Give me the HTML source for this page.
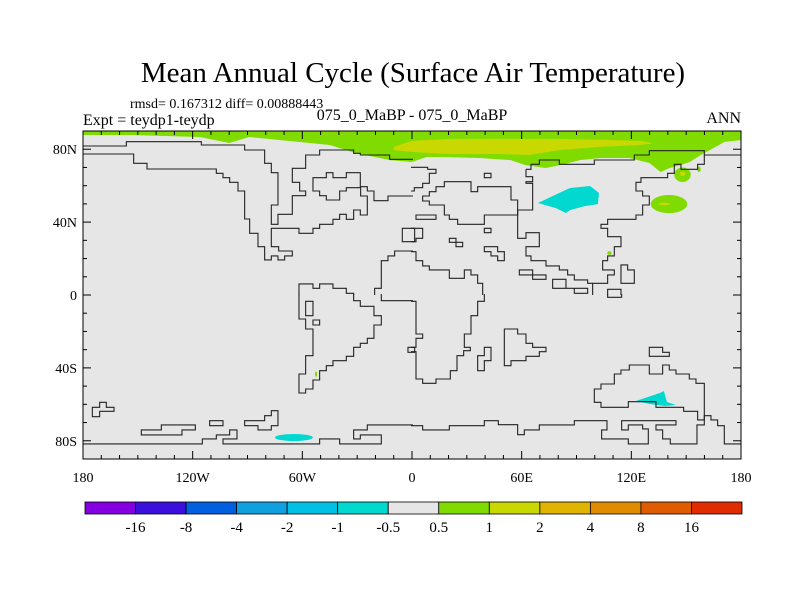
<!DOCTYPE html>
<html><head><meta charset="utf-8"><style>
html,body{margin:0;padding:0;background:#fff;}
svg{display:block;font-family:"Liberation Serif",serif;}
</style></head><body>
<svg id="chart" width="800" height="600" viewBox="0 0 800 600">
<text x="413" y="82" text-anchor="middle" font-size="29">Mean Annual Cycle (Surface Air Temperature)</text>
<text x="130" y="108" font-size="14">rmsd= 0.167312 diff= 0.00888443</text>
<text x="83" y="125" font-size="16">Expt = teydp1-teydp</text>
<text x="412" y="120" text-anchor="middle" font-size="16">075_0_MaBP - 075_0_MaBP</text>
<text x="741" y="123" text-anchor="end" font-size="16">ANN</text>
<defs><clipPath id="pc"><rect x="83" y="131" width="658" height="328"/></clipPath></defs>
<g id="fields" clip-path="url(#pc)"></g>
<g id="coast" clip-path="url(#pc)" fill="none" stroke="#222" stroke-width="1.1">
<g transform="translate(83,130) scale(0.3333)">
<path vector-effect="non-scaling-stroke" d="M0,48 H130 V35 H355 V45 H485 V60 H545 V100 H565 V128 H585 V225 H565 V283 H585 V253 H628 V197 H668 V183 H650 V157 H628 V115 H668 V75 H710 V60 H812 V70 H832 V75 H920 V88 H990"/>
<path vector-effect="non-scaling-stroke" d="M0,72 H152 V100 H192 V117 H400 V130 H420 V143 H440 V157 H465 V183 H485 V267 H500 V310 H525 V350 H545 V390 H565 V378 H585 V390 H605 V378 H628 V363 H587 V350 H565 V295 H648 V310 H690 V295 H710 V283 H750 V268 H770 V253 H790 V268 H812 V240 H832 V255 H853 V198 H833 V173 H790 V183 H770 V210 H730 V197 H710 V183 H690 V143 H730 V128 H750 V143 H790 V128 H832 V170 H853 V183 H873 V212 H915 V198 H990"/>
<path vector-effect="non-scaling-stroke" d="M958,295 H995 V335 H958 Z"/>
<path vector-effect="non-scaling-stroke" d="M648,495 V462 H690 V475 H710 V462 H750 V475 H790 V490 H812 V495"/>
<path vector-effect="non-scaling-stroke" d="M875,495 V475 H895 V392 H915 V378 H935 V363 H990"/>
</g>
<g transform="translate(411,130) scale(0.3333)">
<path vector-effect="non-scaling-stroke" d="M0,112 H50 V118 H75 V130 H55 V160 H35 V173 H10 V183 H0"/>
<path vector-effect="non-scaling-stroke" d="M345,118 H360 V103 H385 V90 H445 V103 H550 V90 H670 V75 H715 V62 H880 V75 H990"/>
<path vector-effect="non-scaling-stroke" d="M880,75 V103 H860 V118 H810 V103 H790 V130 H770 V143 H690 V157 H675 V183 H695 V198 H715 V225 H695 V255 H675 V268 H590 V283 H570 V295 H590 V320 H630 V350 H610 V378 H590 V392 H575 V420 H610 V435 H590 V460 H545 V495"/>
<path vector-effect="non-scaling-stroke" d="M345,118 V140 H365 V155 H345 V160 H365 V240 H320 V325 H345 V308 H385 V350 H345 V378 H360 V392 H405 V408 H445 V420 H470 V435 H490 V450 H530 V460 H545"/>
<path vector-effect="non-scaling-stroke" d="M35,198 H55 V185 H75 V170 H100 V155 H180 V185 H200 V170 H300 V210 H320 V255 H220 V283 H140 V268 H115 V255 H100 V225 H55 V213 H35 Z"/>
<path vector-effect="non-scaling-stroke" d="M0,365 H15 V392 H35 V408 H55 V420 H115 V445 H160 V420 H180 V435 H200 V460 H215 V495"/>
<path vector-effect="non-scaling-stroke" d="M220,130 H240 V143 H220 Z M15,255 H75 V268 H15 Z M220,295 H240 V308 H220 Z M0,295 H35 V325 H15 V335 H0 M115,325 H135 V337 H155 V350 H135 V337 H115 Z M220,350 H260 V365 H280 V392 H260 V378 H240 V365 H220 Z M325,420 H365 V435 H405 V448 H365 V435 H325 Z M425,448 H465 V475 H530 V490 H490 V475 H425 Z M630,405 H650 V420 H670 V460 H630 Z M590,495 V478 H630 V495"/>
</g>
<g transform="translate(83,294) scale(0.3333)">
<path vector-effect="non-scaling-stroke" d="M648,0 V75 H668 V105 H690 V185 H668 V240 H648 V297 H668 V285 H690 V258 H710 V230 H730 V215 H750 V200 H790 V187 H812 V160 H832 V148 H853 V133 H873 V93 H895 V65 H873 V37 H832 V20 H812 V0"/>
<path vector-effect="non-scaling-stroke" d="M895,0 V20 H990"/>
<path vector-effect="non-scaling-stroke" d="M668,22 H690 V65 H668 Z M690,78 H710 V93 H690 Z M975,160 H995 V175 H975 Z"/>
<path vector-effect="non-scaling-stroke" d="M28,340 H50 V325 H70 V340 H93 V352 H50 V368 H28 Z M175,408 H235 V393 H337 V408 H297 V423 H175 Z M380,380 H420 V395 H380 Z M485,380 H545 V365 H565 V350 H585 V395 H565 V408 H525 V395 H485 Z"/>
<path vector-effect="non-scaling-stroke" d="M0,450 H358 V435 H400 V423 H440 V408 H462 V435 H420 V450 H710 V435 H770 V450 H895 V423 H832 V435 H812 V408 H853 V393 H990"/>
</g>
<g transform="translate(411,294) scale(0.3333)">
<path vector-effect="non-scaling-stroke" d="M220,0 V22 H200 V65 H180 V120 H160 V160 H178 V170 H158 V185 H138 V230 H118 V255 H75 V268 H35 V255 H15 V173 H0"/>
<path vector-effect="non-scaling-stroke" d="M0,22 H15 V120 H35 V133 H15 V160 H0"/>
<path vector-effect="non-scaling-stroke" d="M200,230 V185 H220 V160 H240 V200 H220 V230 Z M280,215 V105 H320 V120 H345 V148 H365 V160 H405 V173 H385 V187 H345 V200 H300 V215 Z M715,160 H755 V175 H775 V187 H715 Z M590,0 V10 H632 V0"/>
<path vector-effect="non-scaling-stroke" d="M550,285 H570 V270 H610 V240 H630 V228 H655 V213 H715 V240 H755 V213 H775 V228 H795 V240 H835 V255 H855 V268 H880 V378 H860 V352 H818 V340 H735 V323 H652 V340 H570 V325 H550 Z"/>
<path vector-effect="non-scaling-stroke" d="M0,395 H35 V408 H115 V395 H220 V380 H262 V392 H320 V422 H340 V408 H385 V393 H490 V380 H588 V408 H572 V435 H652 V450 H712 V405 H695 V393 H652 V408 H632 V380 H795 V393 H735 V408 H755 V435 H778 V450 H858 V393 H880 V365 H900 V378 H920 V395 H940 V450 H995"/>
</g>
</g>
<rect x="83" y="131" width="658" height="328" fill="none" stroke="#000" stroke-width="1"/>
<g id="axes"></g>
<g id="colorbar"></g>
</svg>
<script>
// colour scale
const levelLabels = ["-16","-8","-4","-2","-1","-0.5","0.5","1","2","4","8","16"];
const levelColors = ["#8400e0","#3c10dc","#0060e0","#10a0e0","#00c0e4","#00d8d0","#e6e6e6","#80dc00","#c8d800","#e0b400","#e08c00","#e05c00","#e02c00"];
// Arctic warm band: lower edge latitude of the >0.5 contour by longitude
const bandLon = [-180,-154,-116,-100,-89,-45,-31,-12,0,8,15,37,54,62,73,81,92,103,119,130,136,141,147,152,158,163,171,180];
const bandLat = [87.8,87.8,86.7,83.4,86.7,82.3,77.9,74,73,75.7,75.7,75.2,74,71.3,69.7,71.3,74,75.2,75.2,72.4,67.5,69.7,71.3,73,76.8,79.6,84,85];
// >1 contour band (top and bottom latitude)
const yBandLon = [-10,0,21,48,64,81,103,125,131];
const yBandTop = [81.3,84.6,85.7,85.7,85.7,85.7,85.2,84.6,83.5];
const yBandBot = [79.6,78.5,77.4,77.4,76.8,79.6,81.3,82.4,83];
// cooling region over central Asia (-1 to -0.5)
const asiaLon = [68.9,78.2,86.4,97.4,102.3,101.7,94.6,86.4,84.2,78.8];
const asiaLat = [50.5,54.9,58.7,59.8,56,49.9,48.8,46.6,45,47.7];
// cooling region near Antarctica / Australia
const ausLon = [122.5,135.6,137.8,139.5,144.4,138.4,130.2];
const ausLat = [-58.2,-53.8,-52.7,-58.7,-60.4,-60.9,-59.8];
// elliptical cells: centre lon, lat, half-width lon, half-height lat, colour index
const cellLon = [140.6,138,148,148,108,-52.5,-64.6,157];
const cellLat = [49.9,50,66,66.5,23,-43.4,-78.2,69];
const cellRx = [10,3,4.5,1.5,1.2,0.6,10.4,1];
const cellRy = [5,0.7,4,1.2,1,1.5,1.9,1.5];
const cellLevel = [7,8,7,8,7,7,5,7];

const X0=83,X1=741,Y0=131,Y1=459;
function xs(lon){return X0+(lon+180)*(X1-X0)/360;}
function ys(lat){return Y0+(90-lat)*(Y1-Y0)/180;}
const NS='http://www.w3.org/2000/svg';
function mk(tag,attrs,parent){const e=document.createElementNS(NS,tag);for(const k in attrs)e.setAttribute(k,attrs[k]);parent.appendChild(e);return e;}
const fields=document.getElementById('fields');
mk('rect',{x:X0,y:Y0,width:X1-X0,height:Y1-Y0,fill:levelColors[6]},fields);

let pts=bandLon.map((l,i)=>xs(l)+','+ys(bandLat[i]));
pts.push(xs(180)+','+ys(90));pts.push(xs(-180)+','+ys(90));
const band=mk('polygon',{points:pts.join(' '),fill:levelColors[7]},fields);



let yp=yBandLon.map((l,i)=>xs(l)+','+ys(yBandTop[i]));
for(let i=yBandLon.length-1;i>=0;i--)yp.push(xs(yBandLon[i])+','+ys(yBandBot[i]));
const yb=mk('polygon',{points:yp.join(' '),fill:levelColors[8]},fields);



const asia=mk('polygon',{points:asiaLon.map((l,i)=>xs(l)+','+ys(asiaLat[i])).join(' '),fill:levelColors[5]},fields);


const aus=mk('polygon',{points:ausLon.map((l,i)=>xs(l)+','+ys(ausLat[i])).join(' '),fill:levelColors[5]},fields);



cellLon.forEach((l,i)=>{
  const e=mk('ellipse',{cx:xs(l),cy:ys(cellLat[i]),rx:cellRx[i]*(X1-X0)/360,ry:cellRy[i]*(Y1-Y0)/180,fill:levelColors[cellLevel[i]]},fields);
  
  
});

// axes
const ax=document.getElementById('axes');
const latTicks=[80,40,0,-40,-80];
const latLabels=["80N","40N","0","40S","80S"];
const lonTicks=[-180,-120,-60,0,60,120,180];
const lonLabels=["180","120W","60W","0","60E","120E","180"];
for(let lon=-170;lon<180;lon+=10){
  const maj=(lon%60===0);const L=maj?8:4;
  mk('line',{x1:xs(lon),x2:xs(lon),y1:Y0,y2:Y0+L,stroke:'#000','stroke-width':1},ax);
  mk('line',{x1:xs(lon),x2:xs(lon),y1:Y1,y2:Y1-L,stroke:'#000','stroke-width':1},ax);
}
for(let lat=-80;lat<=80;lat+=10){
  const maj=(lat%40===0);const L=maj?8:4;
  mk('line',{x1:X0,x2:X0+L,y1:ys(lat),y2:ys(lat),stroke:'#000','stroke-width':1},ax);
  mk('line',{x1:X1,x2:X1-L,y1:ys(lat),y2:ys(lat),stroke:'#000','stroke-width':1},ax);
}
latTicks.forEach((v,i)=>{
  const t=mk('text',{x:77,y:ys(v)+5,'text-anchor':'end','font-size':14},ax);
  t.textContent=latLabels[i];
  
  
});
lonTicks.forEach((v,i)=>{
  const t=mk('text',{x:xs(v),y:482,'text-anchor':'middle','font-size':14},ax);
  t.textContent=lonLabels[i];
  
  
});

// colorbar
const cb=document.getElementById('colorbar');
const CB0=85,CB1=742,CBY=502,CBH=12,bw=(CB1-CB0)/levelColors.length;
levelColors.forEach((c,i)=>{
  const r=mk('rect',{x:CB0+i*bw,y:CBY,width:bw,height:CBH,fill:c,stroke:'#000','stroke-width':0.8},cb);
  
  
});
levelLabels.forEach((s,i)=>{
  const t=mk('text',{x:CB0+(i+1)*bw,y:532,'text-anchor':'middle','font-size':15},cb);
  t.textContent=s;
  
  
});
</script>
</body></html>
